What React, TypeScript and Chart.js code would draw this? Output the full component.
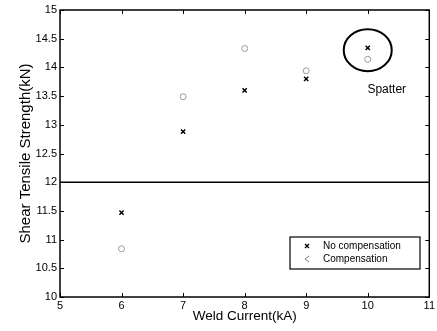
import React, { useEffect, useRef } from "react";
import { Chart, registerables } from "chart.js";
Chart.register(...registerables);

const currents = [6, 7, 8, 9, 10];
const noCompensation = [11.47, 12.88, 13.6, 13.8, 14.34];
const compensation = [10.84, 13.49, 14.33, 13.94, 14.14];
const thresholdX = [5, 11];
const thresholdY = [12, 12];
const xTicks = [5, 6, 7, 8, 9, 10, 11];
const yTicks = [10, 10.5, 11, 11.5, 12, 12.5, 13, 13.5, 14, 14.5, 15];
const seriesNames = ["No compensation", "Compensation"];
const spatterPoint = { x: 10, y: 14.3, label: "Spatter" };
const xTitle = "Weld Current(kA)";
const yTitle = "Shear Tensile Strength(kN)";

const FONT = "'Liberation Sans', Arial, sans-serif";

const framePlugin = {
  id: "frame",
  afterDraw(chart: any) {
    const { ctx, chartArea: a, scales } = chart;
    const xs = scales.x, ys = scales.y;
    ctx.save();
    ctx.strokeStyle = "#000";
    ctx.lineWidth = 1.5;
    ctx.strokeRect(a.left, a.top, a.right - a.left, a.bottom - a.top);
    ctx.lineWidth = 1;
    const t = 4;
    xTicks.forEach((v) => {
      const px = Math.round(xs.getPixelForValue(v)) + 0.5;
      ctx.beginPath();
      ctx.moveTo(px, a.bottom); ctx.lineTo(px, a.bottom - t);
      ctx.moveTo(px, a.top); ctx.lineTo(px, a.top + t);
      ctx.stroke();
    });
    yTicks.forEach((v) => {
      const py = Math.round(ys.getPixelForValue(v)) + 0.5;
      ctx.beginPath();
      ctx.moveTo(a.left, py); ctx.lineTo(a.left + t, py);
      ctx.moveTo(a.right, py); ctx.lineTo(a.right - t, py);
      ctx.stroke();
    });
    const cx = xs.getPixelForValue(spatterPoint.x);
    const cy = ys.getPixelForValue(spatterPoint.y);
    ctx.lineWidth = 2;
    ctx.beginPath();
    ctx.ellipse(cx, cy, 24, 21, 0, 0, Math.PI * 2);
    ctx.stroke();
    ctx.font = `12px ${FONT}`;
    ctx.fillStyle = "#000";
    ctx.textAlign = "center";
    ctx.textBaseline = "middle";
    ctx.fillText(spatterPoint.label, cx + 19, cy + 40);
    const lx = a.left + 230, ly = a.top + 227, lw = 130, lh = 32;
    ctx.fillStyle = "#fff";
    ctx.fillRect(lx, ly, lw, lh);
    ctx.lineWidth = 1.2;
    ctx.strokeRect(lx, ly, lw, lh);
    ctx.font = `10px ${FONT}`;
    ctx.textAlign = "left";
    ctx.fillStyle = "#000";
    ctx.fillText(seriesNames[0], lx + 33, ly + 9);
    ctx.fillText(seriesNames[1], lx + 33, ly + 22);
    ctx.lineWidth = 1.3;
    ctx.beginPath();
    ctx.moveTo(lx + 15, ly + 7); ctx.lineTo(lx + 19, ly + 11);
    ctx.moveTo(lx + 19, ly + 7); ctx.lineTo(lx + 15, ly + 11);
    ctx.stroke();
    ctx.strokeStyle = "#777";
    ctx.lineWidth = 1;
    ctx.beginPath();
    ctx.moveTo(lx + 19, ly + 19); ctx.lineTo(lx + 15, ly + 22); ctx.lineTo(lx + 19, ly + 25);
    ctx.stroke();
    ctx.restore();
  },
};

export default function App() {
  const ref = useRef<HTMLCanvasElement>(null);
  useEffect(() => {
    document.body.style.margin = "0";
    const chart = new Chart(ref.current!, {
      type: "scatter",
      data: {
        datasets: [
          {
            label: seriesNames[0],
            data: currents.map((x, i) => ({ x, y: noCompensation[i] })),
            pointStyle: "crossRot",
            pointRadius: 3,
            borderColor: "#000",
            borderWidth: 1.5,
          },
          {
            label: seriesNames[1],
            data: currents.map((x, i) => ({ x, y: compensation[i] })),
            pointStyle: "circle",
            pointRadius: 3,
            borderColor: "#999",
            backgroundColor: "rgba(255,255,255,0)",
            borderWidth: 1,
          },
          {
            label: "threshold",
            type: "line",
            data: thresholdX.map((x, i) => ({ x, y: thresholdY[i] })),
            borderColor: "#000",
            borderWidth: 1.5,
            pointRadius: 0,
          } as any,
        ],
      },
      options: {
        animation: false,
        responsive: false,
        layout: { padding: { top: 10, right: 3, left: 17, bottom: 7 } },
        plugins: { legend: { display: false }, tooltip: { enabled: false } },
        scales: {
          x: {
            type: "linear",
            min: 5,
            max: 11,
            grid: { display: false, drawTicks: false },
            border: { display: false },
            afterBuildTicks: (s: any) => { s.ticks = xTicks.map((v) => ({ value: v })); },
            afterFit: (s: any) => { s.height = 27; },
            ticks: { color: "#000", font: { family: FONT, size: 11 }, padding: 2 },
            title: { display: true, text: xTitle, color: "#000", font: { family: FONT, size: 13.5 }, padding: { top: 0, bottom: 0 } },
          },
          y: {
            type: "linear",
            min: 10,
            max: 15,
            grid: { display: false, drawTicks: false },
            border: { display: false },
            afterBuildTicks: (s: any) => { s.ticks = yTicks.map((v) => ({ value: v })); },
            afterFit: (s: any) => { s.width = 43; },
            ticks: { color: "#000", font: { family: FONT, size: 11 }, padding: 3, callback: (v: any) => String(v) },
            title: { display: true, text: yTitle, color: "#000", font: { family: FONT, size: 15 }, padding: { top: 0, bottom: 0 } },
          },
        },
      },
      plugins: [framePlugin],
    });
    return () => chart.destroy();
  }, []);
  return (
    <div style={{ width: 437, height: 331 }}>
      <canvas ref={ref} width={437} height={331} />
    </div>
  );
}
